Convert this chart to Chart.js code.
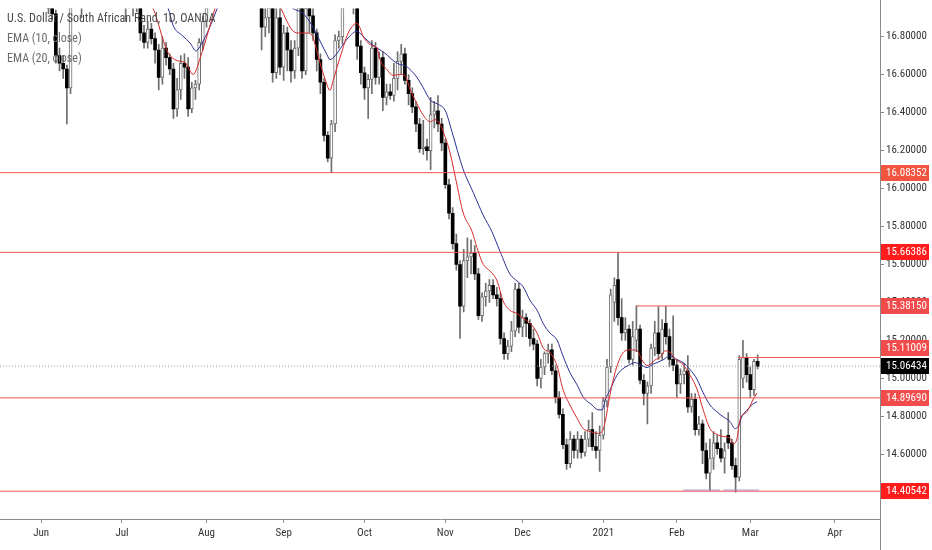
<!DOCTYPE html>
<html>
<head>
<meta charset="utf-8">
<title>USDZAR 1D</title>
<script src="https://cdn.jsdelivr.net/npm/chart.js@4.4.1/dist/chart.umd.min.js"></script>
<style>
  html, body { margin: 0; padding: 0; background: #fff; }
  #wrap { position: relative; width: 932px; height: 550px; }
  #legend {
    position: absolute; left: 7px; top: 8px; pointer-events: none;
    font-family: "Liberation Sans Narrow", "Roboto Condensed", Roboto, sans-serif;
    font-size: 12px; line-height: 20px; color: #6a6a6a;
  }
  #legend .title { color: #4a4a4a; }
</style>
</head>
<body>
<div id="wrap">
  <canvas id="chart" width="932" height="550"></canvas>
  <div id="legend">
    <div class="title">U.S. Dollar / South African Rand, 1D, OANDA</div>
    <div>EMA (10, close)</div>
    <div>EMA (20, close)</div>
  </div>
</div>
<script>
"use strict";

// daily bars, counted in trading days from 1 Jun 2020 (bar 0)
const firstBar = -11;

const opens = [
  17.62, 17.55, 17.60, 17.48, 17.52, 17.38, 17.45, 17.55, 17.42, 17.30,
  17.35, 17.20, 17.10, 17.02, 16.95, 16.92, 16.70, 16.66, 16.63, 16.53,
  17.05, 17.18, 17.10, 17.00, 17.15, 17.30, 17.38, 17.32, 17.18, 17.25,
  17.38, 17.30, 17.22, 17.12, 17.05, 16.98, 17.08, 16.99, 16.97, 16.82,
  16.77, 16.84, 16.79, 16.73, 16.585, 16.74, 16.69, 16.63, 16.42, 16.52,
  16.66, 16.64, 16.42, 16.53, 16.55, 16.77, 16.88, 17.06, 17.30, 17.48,
  17.45, 17.38, 17.45, 17.52, 17.45, 17.36, 17.40, 17.26, 17.30, 17.15,
  17.05, 17.02, 16.85, 16.90, 16.97, 16.61, 16.90, 16.64, 16.82, 16.73,
  16.62, 16.74, 16.96, 16.62, 16.95, 16.91, 16.82, 16.68, 16.56, 16.28,
  16.16, 16.34, 16.78, 16.80, 17.00, 17.12, 17.08, 16.97, 16.75, 16.61,
  16.53, 16.575, 16.74, 16.585, 16.69, 16.48, 16.51, 16.49, 16.58, 16.67,
  16.71, 16.57, 16.50, 16.43, 16.34, 16.21, 16.22, 16.20, 16.39, 16.41,
  16.34, 16.24, 16.02, 15.87, 15.71, 15.60, 15.38, 15.62, 15.64, 15.66,
  15.55, 15.33, 15.43, 15.46, 15.49, 15.44, 15.42, 15.21, 15.13, 15.17,
  15.25, 15.47, 15.27, 15.32, 15.29, 15.21, 15.18, 15.00, 15.06, 15.13,
  15.15, 15.04, 14.90, 14.81, 14.65, 14.55, 14.68, 14.62, 14.68, 14.61,
  14.68, 14.73, 14.64, 14.62, 14.70, 14.88, 15.06, 15.40, 15.52, 15.32,
  15.24, 15.26, 15.10, 15.20, 15.26, 14.99, 14.92, 14.96, 15.16, 15.24,
  15.13, 15.29, 15.22, 15.10, 15.07, 14.97, 15.02, 15.04, 14.85, 14.89,
  14.73, 14.76, 14.62, 14.50, 14.58, 14.66, 14.63, 14.58, 14.70, 14.66,
  14.54, 14.48, 15.00, 15.11, 15.02, 14.94, 15.09
];
const highs = [
  17.75, 17.70, 17.68, 17.60, 17.58, 17.50, 17.62, 17.60, 17.48, 17.40,
  17.40, 17.28, 17.18, 17.08, 16.98, 16.94, 16.74, 16.70, 16.65, 17.12,
  17.25, 17.30, 17.15, 17.20, 17.35, 17.45, 17.50, 17.40, 17.30, 17.42,
  17.45, 17.40, 17.30, 17.20, 17.10, 17.15, 17.12, 17.05, 17.00, 16.86,
  16.88, 16.87, 16.82, 16.76, 16.80, 16.77, 16.71, 16.66, 16.58, 16.70,
  16.71, 16.69, 16.56, 16.57, 16.79, 16.91, 17.12, 17.35, 17.55, 17.62,
  17.55, 17.50, 17.60, 17.65, 17.52, 17.48, 17.45, 17.38, 17.35, 17.22,
  17.12, 17.08, 16.95, 17.00, 17.05, 16.96, 16.98, 16.86, 16.85, 16.78,
  16.78, 17.02, 17.02, 16.99, 17.00, 16.95, 16.84, 16.71, 16.58, 16.30,
  16.36, 16.81, 16.83, 17.05, 17.18, 17.22, 17.12, 17.00, 16.78, 16.64,
  16.60, 16.78, 16.77, 16.72, 16.72, 16.55, 16.55, 16.66, 16.72, 16.76,
  16.74, 16.60, 16.53, 16.46, 16.37, 16.36, 16.26, 16.48, 16.46, 16.49,
  16.37, 16.26, 16.05, 15.90, 15.76, 15.62, 15.68, 15.74, 15.73, 15.70,
  15.58, 15.45, 15.50, 15.52, 15.52, 15.48, 15.45, 15.24, 15.20, 15.30,
  15.50, 15.50, 15.36, 15.34, 15.31, 15.26, 15.20, 15.10, 15.14, 15.18,
  15.18, 15.07, 14.93, 14.84, 14.68, 14.72, 14.70, 14.72, 14.70, 14.72,
  14.78, 14.82, 14.72, 14.75, 14.90, 15.10, 15.47, 15.53, 15.664, 15.42,
  15.32, 15.28, 15.30, 15.3815, 15.28, 15.02, 14.98, 15.18, 15.30, 15.378,
  15.31, 15.38, 15.26, 15.33, 15.10, 15.05, 15.08, 15.12, 14.92, 14.92,
  14.80, 14.78, 14.66, 14.68, 14.72, 14.70, 14.73, 14.66, 14.82, 14.68,
  14.58, 15.12, 15.20, 15.13, 15.06, 15.10, 15.124
];
const lows = [
  17.50, 17.45, 17.40, 17.35, 17.30, 17.28, 17.40, 17.35, 17.25, 17.20,
  17.15, 17.05, 16.98, 16.92, 16.89, 16.66, 16.62, 16.58, 16.34, 16.50,
  17.00, 17.02, 16.90, 16.97, 17.10, 17.20, 17.25, 17.12, 17.05, 17.18,
  17.22, 17.15, 17.05, 16.98, 16.88, 16.95, 16.91, 16.93, 16.78, 16.74,
  16.74, 16.76, 16.66, 16.52, 16.55, 16.65, 16.60, 16.37, 16.38, 16.47,
  16.58, 16.38, 16.40, 16.47, 16.52, 16.73, 16.85, 17.02, 17.25, 17.38,
  17.30, 17.28, 17.38, 17.40, 17.30, 17.25, 17.20, 17.15, 17.08, 17.00,
  16.97, 16.73, 16.80, 16.82, 16.56, 16.58, 16.60, 16.57, 16.62, 16.56,
  16.58, 16.70, 16.58, 16.60, 16.82, 16.78, 16.62, 16.50, 16.25, 16.14,
  16.0835, 16.30, 16.74, 16.76, 16.96, 17.02, 16.92, 16.68, 16.55, 16.47,
  16.37, 16.50, 16.55, 16.55, 16.41, 16.44, 16.47, 16.46, 16.52, 16.60,
  16.55, 16.44, 16.40, 16.30, 16.19, 16.18, 16.15, 16.10, 16.32, 16.30,
  16.20, 16.00, 15.84, 15.68, 15.57, 15.21, 15.35, 15.53, 15.55, 15.52,
  15.31, 15.30, 15.38, 15.40, 15.42, 15.38, 15.18, 15.10, 15.10, 15.14,
  15.22, 15.24, 15.22, 15.22, 15.17, 15.15, 14.96, 14.95, 15.02, 15.08,
  15.02, 14.87, 14.79, 14.63, 14.52, 14.53, 14.58, 14.58, 14.58, 14.59,
  14.64, 14.62, 14.58, 14.51, 14.68, 14.85, 15.03, 15.30, 15.28, 15.20,
  15.20, 15.08, 15.07, 15.14, 14.97, 14.86, 14.76, 14.92, 15.12, 15.10,
  15.10, 15.18, 15.06, 15.04, 14.90, 14.92, 14.97, 14.82, 14.82, 14.70,
  14.70, 14.55, 14.47, 14.41, 14.52, 14.60, 14.56, 14.50, 14.63, 14.52,
  14.40, 14.46, 14.95, 14.98, 14.90, 14.91, 15.05
];
const closes = [
  17.55, 17.60, 17.48, 17.52, 17.38, 17.45, 17.55, 17.42, 17.30, 17.35,
  17.20, 17.10, 17.02, 16.95, 16.92, 16.70, 16.66, 16.63, 16.53, 17.05,
  17.18, 17.10, 17.00, 17.15, 17.30, 17.38, 17.32, 17.18, 17.25, 17.38,
  17.30, 17.22, 17.12, 17.05, 16.98, 17.08, 16.99, 16.97, 16.82, 16.77,
  16.84, 16.79, 16.73, 16.585, 16.74, 16.69, 16.63, 16.42, 16.52, 16.66,
  16.64, 16.42, 16.53, 16.55, 16.77, 16.88, 17.06, 17.30, 17.48, 17.45,
  17.38, 17.45, 17.52, 17.45, 17.36, 17.40, 17.26, 17.30, 17.15, 17.05,
  17.02, 16.85, 16.90, 16.97, 16.61, 16.90, 16.64, 16.82, 16.73, 16.62,
  16.74, 16.96, 16.62, 16.95, 16.91, 16.82, 16.68, 16.56, 16.28, 16.16,
  16.34, 16.78, 16.80, 17.00, 17.12, 17.08, 16.97, 16.75, 16.61, 16.53,
  16.575, 16.74, 16.585, 16.69, 16.48, 16.51, 16.49, 16.58, 16.67, 16.71,
  16.57, 16.50, 16.43, 16.34, 16.21, 16.22, 16.20, 16.39, 16.41, 16.34,
  16.24, 16.02, 15.87, 15.71, 15.60, 15.38, 15.62, 15.64, 15.66, 15.55,
  15.33, 15.43, 15.46, 15.49, 15.44, 15.42, 15.21, 15.13, 15.17, 15.25,
  15.47, 15.27, 15.32, 15.29, 15.21, 15.18, 15.00, 15.06, 15.13, 15.15,
  15.04, 14.90, 14.81, 14.65, 14.55, 14.68, 14.62, 14.68, 14.61, 14.68,
  14.73, 14.64, 14.62, 14.70, 14.88, 15.06, 15.44, 15.49, 15.32, 15.24,
  15.26, 15.10, 15.22, 15.26, 14.99, 14.92, 14.96, 15.16, 15.24, 15.13,
  15.26, 15.22, 15.10, 15.07, 14.97, 15.02, 15.04, 14.85, 14.89, 14.73,
  14.76, 14.62, 14.50, 14.58, 14.66, 14.63, 14.58, 14.62, 14.66, 14.54,
  14.48, 15.10, 15.11, 15.02, 14.94, 15.09, 15.06434
];

// EMA lines (bar position, price)
const ema10Bars = [-11, -5, 0, 5, 8, 12, 17, 22, 27, 30.5, 34.3, 37, 39.2, 41.4, 43.3, 45.2, 47.3,
  51, 55, 59, 63, 65, 66.9, 68.6, 70.5, 72.4, 73.7, 74.6, 75.9, 77.3, 78.6, 79.5, 80.5, 81.9,
  83.3, 84.9, 86, 86.8, 87.6, 89, 90.3, 91.4, 92.2, 94.1, 95.8, 97.7, 99, 100.4, 102.3, 103.9,
  105.9, 107.2, 108.6, 109.9, 111.3, 113.2, 114.8, 117.3, 118.6, 120.3, 122.2, 124.1, 125.7,
  127.6, 129.5, 131.2, 133.1, 135, 136.6, 138.5, 140.4, 142, 143.9, 145.9, 147.5, 149.4, 151.3,
  152.7, 153.5, 154.8, 156.2, 157.6, 158.9, 160.3, 162.2, 163.5, 164.9, 165.7, 167.1, 168.4,
  169.8, 171.2, 173.1, 174.7, 176.6, 178.5, 180.1, 182, 183.9, 185.6, 187.5, 188.3, 189.4,
  190.2, 192.1, 193.7, 194.8];
const ema10 = [17.75, 17.6, 17.4, 17.2, 17.12, 17.12, 17.2, 17.2, 17.05, 16.948, 16.725, 16.674,
  16.663, 16.601, 16.689, 16.808, 16.948, 17.15, 17.3, 17.2, 17.02, 16.96, 16.881, 16.829,
  16.819, 16.819, 16.808, 16.756, 16.663, 16.575, 16.518, 16.570, 16.637, 16.725, 16.808,
  16.860, 16.870, 16.845, 16.803, 16.767, 16.751, 16.741, 16.679, 16.627, 16.596, 16.601,
  16.596, 16.523, 16.446, 16.389, 16.352, 16.363, 16.337, 16.275, 16.187, 16.016, 15.876,
  15.772, 15.689, 15.601, 15.565, 15.513, 15.409, 15.358, 15.342, 15.316, 15.290, 15.238,
  15.161, 15.135, 15.067, 14.943, 14.860, 14.788, 14.736, 14.720, 14.710, 14.720, 14.772,
  14.912, 15.031, 15.109, 15.145, 15.150, 15.145, 15.098, 15.067, 15.073, 15.098, 15.109,
  15.145, 15.135, 15.093, 15.073, 15.016, 14.943, 14.839, 14.736, 14.705, 14.694, 14.684,
  14.653, 14.684, 14.782, 14.824, 14.886, 14.922];
const ema20Bars = [-11, 0, 10, 20, 28, 33, 34.6, 35.9, 38.6, 40.5, 42.2, 43, 44.1, 46, 47.9, 52,
  57, 62, 66, 68.6, 71.3, 73.7, 75.9, 77.8, 78.6, 80, 81.9, 83.5, 86, 87.3, 88.7, 90.3, 92.2,
  94.1, 95.8, 97.7, 99, 100.4, 102.3, 103.9, 105.9, 107.8, 110, 111.8, 114.8, 117.6, 120.3,
  122.7, 124.9, 127.6, 129.5, 131.2, 133.1, 135, 136.6, 138.5, 140.4, 142, 143.9, 145.9, 147.5,
  149.9, 151.6, 152.7, 153.5, 154.8, 156.7, 158.1, 159.7, 161.6, 163, 164.9, 166.3, 167.6,
  169.3, 171.2, 173.1, 174.7, 176.6, 178.5, 180.1, 182, 183.9, 185.6, 187.5, 188.8, 189.7,
  190.7, 192.4, 193.7, 194.8];
const ema20 = [17.85, 17.6, 17.35, 17.3, 17.15, 17.0, 16.948, 16.860, 16.803, 16.767, 16.725,
  16.741, 16.777, 16.855, 16.948, 17.12, 17.22, 17.1, 16.99, 16.948, 16.922, 16.860, 16.777,
  16.705, 16.679, 16.699, 16.751, 16.793, 16.829, 16.808, 16.782, 16.756, 16.731, 16.705,
  16.674, 16.653, 16.648, 16.627, 16.585, 16.534, 16.466, 16.446, 16.41, 16.30, 16.104,
  15.979, 15.860, 15.772, 15.668, 15.549, 15.513, 15.482, 15.409, 15.358, 15.290, 15.238,
  15.202, 15.119, 15.031, 14.964, 14.902, 14.860, 14.834, 14.834, 14.886, 14.938, 15.016,
  15.047, 15.067, 15.083, 15.073, 15.057, 15.073, 15.083, 15.098, 15.119, 15.098, 15.083,
  15.047, 14.995, 14.927, 14.860, 14.824, 14.798, 14.772, 14.736, 14.746, 14.798, 14.839,
  14.865, 14.876];

// horizontal levels drawn on the chart
const levelPrices = [16.08352, 15.66386, 15.38150, 15.11009, 14.89690, 14.40542];
const levelFromBar = [null, null, 162, 189.7, null, null];
const levelTagColors = ["#f1543f", "#ff1c1c", "#f24b4b", "#f24b4b", "#f24b4b", "#ff1c1c"];
const lastPrice = 15.06434;
const lowMarkFrom = [174.7, 185.6];
const lowMarkTo = [184.8, 195.4];
const lowMarkPrice = 14.412;

const monthBars = [0, 22, 45, 66, 88, 110, 131, 153, 173, 193, 216];
const monthLabels = ["Jun", "Jul", "Aug", "Sep", "Oct", "Nov", "Dec", "2021", "Feb", "Mar", "Apr"];
const priceTicks = [14.6, 14.8, 15.0, 15.2, 15.4, 15.6, 15.8, 16.0, 16.2, 16.4, 16.6, 16.8];

const xMin = -11.2, xMax = 228.3;
const yMin = 14.259, yMax = 16.948;
const axisFont = { family: "'Liberation Sans Narrow', 'Roboto Condensed', Roboto, sans-serif", size: 11 };

const wicks = [], upBodies = [], downBodies = [];
opens.forEach((o, k) => {
  const bar = firstBar + k;
  const c = closes[k];
  wicks.push({ x: bar, y: [lows[k], highs[k]] });
  if (c >= o) upBodies.push({ x: bar, y: [o, c] });
  else downBodies.push({ x: bar, y: [c, o] });
});

const lineDs = (data, color, extra) => Object.assign({
  type: "line", data, borderColor: color, borderWidth: 1, pointRadius: 0,
  clip: 0, order: 1
}, extra || {});

const datasets = [
  lineDs(ema10Bars.map((b, k) => ({ x: b, y: ema10[k] })), "#d62b2b", { cubicInterpolationMode: "monotone" }),
  lineDs(ema20Bars.map((b, k) => ({ x: b, y: ema20[k] })), "#2b2f93", { cubicInterpolationMode: "monotone" }),
  ...levelPrices.map((p, k) => lineDs(
    [{ x: levelFromBar[k] === null ? xMin : levelFromBar[k], y: p }, { x: xMax, y: p }],
    "#f05454", { order: 0 })),
  lineDs([{ x: xMin, y: lastPrice }, { x: xMax, y: lastPrice }], "#9a9a9a", { borderDash: [1, 2], order: 2 }),
  ...lowMarkFrom.map((f, k) => lineDs(
    [{ x: f, y: lowMarkPrice }, { x: lowMarkTo[k], y: lowMarkPrice }],
    "rgba(160,140,220,0.45)", { borderWidth: 2, order: 0 })),
  { type: "bar", data: upBodies, backgroundColor: "#ffffff", borderColor: "#6e6e6e",
    borderWidth: 1, borderSkipped: false, barThickness: 3, minBarLength: 1,
    grouped: false, clip: 0, order: 4 },
  { type: "bar", data: downBodies, backgroundColor: "#000000", borderWidth: 0,
    barThickness: 3, minBarLength: 1, grouped: false, clip: 0, order: 4 },
  { type: "bar", data: wicks, backgroundColor: "#6e6e6e", borderWidth: 0,
    barThickness: 1, grouped: false, clip: 0, order: 5 }
];

// price tags on the right axis, nudged apart like the original
const priceTags = {
  id: "priceTags",
  afterDraw(chart) {
    const { ctx, chartArea, scales: { y } } = chart;
    const tagH = 16;
    const x0 = chartArea.right;
    ctx.save();
    ctx.strokeStyle = "#8a8a8a";
    ctx.lineWidth = 1;
    ctx.beginPath();
    ctx.moveTo(x0 + 0.5, 0);
    ctx.lineTo(x0 + 0.5, chart.height);
    ctx.stroke();

    const yCur = y.getPixelForValue(lastPrice);
    const drawTag = (py, text, color) => {
      ctx.fillStyle = color;
      ctx.fillRect(x0 + 1, Math.round(py - tagH / 2), 48, tagH);
      ctx.fillStyle = "#ffffff";
      ctx.font = "11px " + axisFont.family;
      ctx.textBaseline = "middle";
      ctx.textAlign = "left";
      ctx.fillText(text, x0 + 6, Math.round(py) + 0.5);
    };
    levelPrices.forEach((p, k) => {
      let py = y.getPixelForValue(p);
      if (Math.abs(py - yCur) < tagH) py = py < yCur ? yCur - tagH - 2 : yCur + tagH + 2;
      drawTag(py, p.toFixed(5), levelTagColors[k]);
    });
    drawTag(yCur, lastPrice.toFixed(5), "#000000");
    ctx.restore();
  }
};

new Chart(document.getElementById("chart"), {
  type: "bar",
  data: { datasets },
  options: {
    responsive: false,
    animation: false,
    events: [],
    layout: { padding: 0 },
    plugins: { legend: { display: false }, tooltip: { enabled: false } },
    scales: {
      x: {
        type: "linear", min: xMin, max: xMax, offset: false,
        afterBuildTicks: (s) => { s.ticks = monthBars.map((v) => ({ value: v })); },
        afterFit: (s) => { s.height = 31; },
        ticks: {
          autoSkip: false, maxRotation: 0, padding: 4, color: "#333333", font: axisFont,
          callback: (v) => monthLabels[monthBars.indexOf(v)]
        },
        grid: { offset: false, drawOnChartArea: false, tickLength: 4, color: "#8a8a8a" },
        border: { color: "#8a8a8a" }
      },
      y: {
        type: "linear", position: "right", min: yMin, max: yMax,
        afterBuildTicks: (s) => { s.ticks = priceTicks.map((v) => ({ value: v })); },
        afterFit: (s) => { s.width = 52; },
        ticks: { padding: 2, color: "#333333", font: axisFont, callback: (v) => v.toFixed(5) },
        grid: { drawOnChartArea: false, tickLength: 4, color: "#8a8a8a" },
        border: { color: "#8a8a8a" }
      }
    }
  },
  plugins: [priceTags]
});
</script>
</body>
</html>
